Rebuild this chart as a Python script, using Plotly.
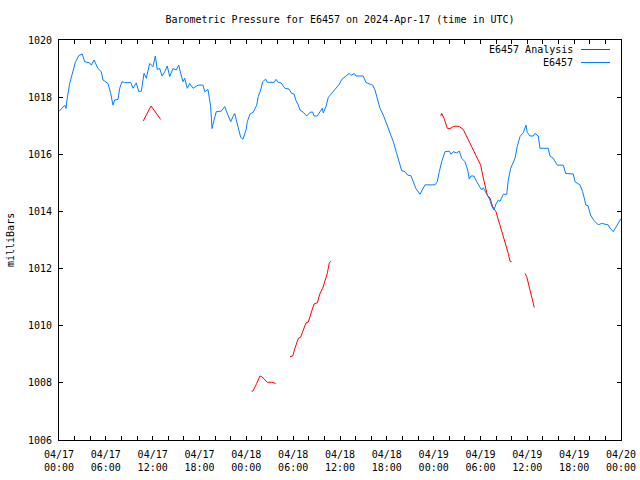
import pandas as pd
import plotly.graph_objects as go

# ---- data (hours since 2024-04-17 00:00 UTC, pressure in mb) ----
obs_hours = [0.0, 0.51, 0.73, 0.9, 1.02, 1.37, 1.79, 2.09, 2.52, 2.98, 3.29, 3.93, 4.14, 4.48, 5.0,
             5.42, 5.64, 6.28, 6.62, 6.92, 7.14, 7.56, 7.78, 8.07, 8.42, 9.19, 9.48, 9.9, 10.21,
             10.54, 10.89, 11.18, 11.62, 12.04, 12.34, 12.59, 12.9, 13.2, 13.54, 13.87, 14.18,
             14.6, 15.03, 15.33, 15.59, 15.89, 16.1, 16.44, 16.74, 17.17, 17.81, 18.45, 18.67,
             19.09, 19.43, 19.6, 19.86, 20.15, 20.79, 21.23, 21.65, 22.0, 22.29, 22.51, 22.93,
             23.28, 23.57, 23.96, 24.12, 24.47, 24.89, 25.33, 25.53, 25.84, 26.1, 26.48, 26.69,
             27.58, 27.8, 28.09, 28.44, 28.73, 28.95, 29.47, 29.81, 30.11, 30.36, 30.66, 30.87,
             31.3, 31.73, 32.16, 32.5, 32.67, 33.09, 33.44, 33.73, 33.86, 34.2, 34.5, 34.94,
             35.58, 35.91, 36.22, 36.77, 37.19, 37.41, 37.83, 38.05, 38.98, 39.33, 40.19, 40.48,
             40.78, 41.12, 41.55, 41.98, 42.4, 42.83, 43.26, 43.59, 43.9, 44.33, 44.67, 45.09,
             45.26, 45.73, 46.25, 46.89, 48.17, 48.46, 48.72, 49.03, 49.45, 50.0, 50.22, 50.51,
             50.95, 51.28, 51.59, 52.01, 52.36, 52.56, 52.78, 53.16, 53.51, 53.84, 54.15, 54.36,
             54.57, 54.92, 55.21, 55.43, 55.73, 55.98, 56.28, 56.5, 56.92, 57.36, 57.56, 57.87,
             58.42, 58.71, 59.06, 59.48, 59.83, 59.99, 60.34, 60.76, 60.98, 61.4, 61.62, 62.68,
             62.9, 63.32, 63.84, 64.6, 64.91, 65.89, 66.1, 66.74, 67.09, 67.51, 67.77, 68.11,
             68.54, 69.09, 69.52, 70.37, 70.58, 71.01, 71.45, 71.87, 72.0]
obs_mb = [1017.5, 1017.67, 1017.72, 1017.6, 1017.9, 1018.48, 1018.89, 1019.21, 1019.45, 1019.51,
          1019.24, 1019.2, 1019.12, 1019.3, 1019.0, 1018.89, 1018.6, 1018.48, 1018.13, 1017.72,
          1017.9, 1017.92, 1018.31, 1018.54, 1018.51, 1018.51, 1018.31, 1018.5, 1018.2, 1018.2,
          1018.83, 1018.66, 1019.18, 1019.07, 1019.44, 1018.97, 1019.0, 1018.74, 1018.89, 1019.09,
          1018.72, 1019.0, 1018.95, 1019.12, 1018.83, 1018.54, 1018.66, 1018.31, 1018.48, 1018.31,
          1018.42, 1018.42, 1018.19, 1018.27, 1017.67, 1016.9, 1017.2, 1017.49, 1017.51, 1017.67,
          1017.37, 1017.14, 1017.32, 1017.43, 1016.97, 1016.59, 1016.53, 1016.85, 1017.14, 1017.41,
          1017.47, 1017.72, 1018.02, 1018.25, 1018.54, 1018.63, 1018.52, 1018.52, 1018.62, 1018.52,
          1018.5, 1018.39, 1018.31, 1018.28, 1018.13, 1018.11, 1017.88, 1017.72, 1017.55, 1017.47,
          1017.34, 1017.47, 1017.48, 1017.34, 1017.34, 1017.49, 1017.61, 1017.45, 1017.67, 1017.99,
          1018.13, 1018.31, 1018.45, 1018.62, 1018.74, 1018.83, 1018.76, 1018.83, 1018.74, 1018.74,
          1018.51, 1018.42, 1018.25, 1017.9, 1017.61, 1017.37, 1017.08, 1016.73, 1016.44, 1016.03,
          1015.74, 1015.43, 1015.39, 1015.27, 1015.25, 1015.12, 1014.8, 1014.6, 1014.93, 1014.93,
          1015.04, 1015.39, 1015.74, 1016.09, 1016.11, 1016.0, 1016.09, 1016.05, 1016.11, 1015.86,
          1015.74, 1015.45, 1015.13, 1015.24, 1015.24, 1015.04, 1014.87, 1014.75, 1014.83, 1014.73,
          1014.57, 1014.4, 1014.19, 1014.05, 1014.26, 1014.4, 1014.35, 1014.6, 1014.6, 1015.1,
          1015.51, 1015.86, 1016.27, 1016.62, 1016.76, 1017.02, 1016.77, 1016.64, 1016.64, 1016.73,
          1016.64, 1016.21, 1016.21, 1015.94, 1015.86, 1015.62, 1015.62, 1015.33, 1015.31, 1015.04,
          1014.93, 1014.69, 1014.22, 1014.2, 1013.87, 1013.68, 1013.53, 1013.58, 1013.53, 1013.42,
          1013.29, 1013.49, 1013.68, 1013.75]

# Analysis segments (None = gap)
ana_hours = [10.8, 11.79, 13.03, None,
             24.69, 24.85, 25.33, 25.75, 25.97, 26.69, 27.25, 27.76, None,
             29.59, 29.94, 30.23, 30.66, 30.96, 31.3, 31.64, 31.94, 32.37, 32.67, 33.09, 33.44,
             33.78, 34.08, 34.37, 34.63, 34.85, None,
             48.9, 49.03, 49.32, 49.74, 50.09, 50.51, 50.86, 51.28, 51.79, 52.14, 52.56, 53.0,
             53.42, 53.72, 54.02, 54.28, 54.57, 54.87, 55.21, 55.56, 55.98, 56.28, 56.59, 56.92,
             57.26, 57.56, 57.78, 57.99, None,
             59.7, 59.92, 60.34, 60.63, 60.89]
ana_mb = [1017.17, 1017.69, 1017.22, None,
          1007.71, 1007.71, 1007.98, 1008.24, 1008.22, 1008.02, 1008.02, 1007.98, None,
          1008.92, 1008.94, 1009.21, 1009.56, 1009.6, 1009.85, 1010.1, 1010.13, 1010.55, 1010.76,
          1010.8, 1011.13, 1011.31, 1011.54, 1011.83, 1012.2, 1012.26, None,
          1017.34, 1017.43, 1017.26, 1016.91, 1016.9, 1016.97, 1016.99, 1016.97, 1016.87, 1016.67,
          1016.44, 1016.21, 1015.97, 1015.74, 1015.62, 1015.27, 1014.93, 1014.57, 1014.47, 1014.17,
          1013.99, 1013.72, 1013.41, 1013.12, 1012.82, 1012.53, 1012.26, 1012.24, None,
          1011.83, 1011.72, 1011.25, 1010.9, 1010.64]

tick_hours = list(range(0, 73, 2))
label_hours = [0, 6, 12, 18, 24, 30, 36, 42, 48, 54, 60, 66, 72]
y_ticks = [1006, 1008, 1010, 1012, 1014, 1016, 1018, 1020]

series_names = ["E6457 Analysis", "E6457"]
series_colors = ["#ff0000", "#0080ff"]

# ---- build ----
base = pd.Timestamp("2024-04-17 00:00")


def to_time(hours):
    return [None if h is None else base + pd.Timedelta(hours=h) for h in hours]


FONT = "DejaVu Sans Mono"
L, R, T, B = 59, 19, 40, 40
W, H = 640, 480
pw, ph = W - L - R, H - T - B

fig = go.Figure()
fig.add_trace(go.Scatter(x=to_time(ana_hours), y=ana_mb, mode="lines",
                         line=dict(color=series_colors[0], width=1),
                         connectgaps=False, name=series_names[0]))
fig.add_trace(go.Scatter(x=to_time(obs_hours), y=obs_mb, mode="lines",
                         line=dict(color=series_colors[1], width=1),
                         name=series_names[1]))

tickvals = to_time(tick_hours)
ticktext = []
for h, t in zip(tick_hours, tickvals):
    ticktext.append(t.strftime("%m/%d<br>%H:%M") if h in label_hours else "")

fig.update_layout(
    width=W, height=H,
    margin=dict(l=L, r=R, t=T, b=B, pad=0, autoexpand=False),
    paper_bgcolor="white", plot_bgcolor="white",
    showlegend=False,
    font=dict(family=FONT, size=10, color="black"),
    title=dict(text="Barometric Pressure for E6457 on 2024-Apr-17 (time in UTC)",
               x=0.5, xref="paper", xanchor="center",
               y=1 - 19 / H, yref="container", yanchor="middle",
               font=dict(family=FONT, size=10, color="black")),
    xaxis=dict(range=[base, base + pd.Timedelta(hours=72)], automargin=False,
               tickmode="array", tickvals=tickvals, ticktext=ticktext,
               ticks="inside", ticklen=4, tickcolor="black", tickwidth=1,
               ticklabelstandoff=5,
               showline=True, linecolor="black", linewidth=1, mirror="ticks",
               showgrid=False, zeroline=False,
               tickfont=dict(family=FONT, size=10, color="black")),
    yaxis=dict(range=[1006, 1020], automargin=False, tickmode="array", tickvals=y_ticks,
               ticktext=[str(v) for v in y_ticks],
               ticks="inside", ticklen=4, tickcolor="black", tickwidth=1,
               ticklabelstandoff=4,
               showline=True, linecolor="black", linewidth=1, mirror="ticks",
               showgrid=False, zeroline=False,
               tickfont=dict(family=FONT, size=10, color="black")),
)

# y-axis label
fig.add_annotation(text="milliBars", textangle=-90, xref="paper", yref="paper",
                   x=(10 - L) / pw, y=0.5, xanchor="center", yanchor="middle",
                   showarrow=False, font=dict(family=FONT, size=10, color="black"))

# gnuplot-style key (text right, sample line right of it)
key_rows_y = [49.5, 62.5]
for name, color, ky in zip(series_names, series_colors, key_rows_y):
    yp = (H - B - ky) / ph
    fig.add_annotation(text=name, xref="paper", yref="paper",
                       x=(575 - L) / pw, y=yp, xanchor="right", yanchor="middle",
                       showarrow=False, font=dict(family=FONT, size=10, color="black"))
    fig.add_shape(type="line", xref="paper", yref="paper",
                  x0=(581 - L) / pw, x1=(610 - L) / pw, y0=yp, y1=yp,
                  line=dict(color=color, width=1))

fig.write_html("out.html")
